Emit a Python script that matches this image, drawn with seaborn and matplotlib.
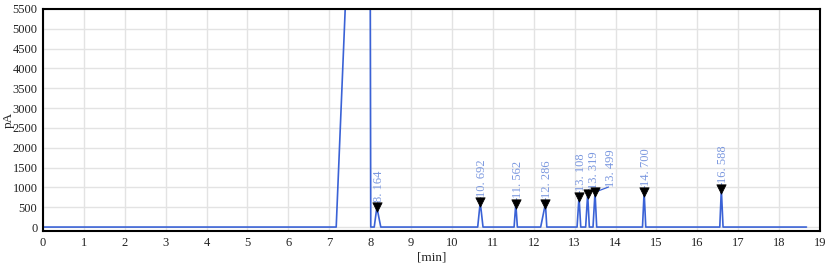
import matplotlib
matplotlib.use("Agg")
import matplotlib.pyplot as plt
import seaborn as sns
import pandas as pd

# Chromatogram polyline vertices (time in min, signal in pA)
time_min = [0.0, 7.17, 7.39, 7.45, 8.00, 8.015,
            8.10, 8.164, 8.26,
            10.63, 10.692, 10.76,
            11.52, 11.562, 11.60,
            12.17, 12.286, 12.32,
            13.06, 13.108, 13.15,
            13.27, 13.319, 13.36,
            13.45, 13.499, 13.54,
            14.66, 14.700, 14.74,
            16.55, 16.588, 16.63,
            18.67]
signal_pA = [0, 0, 5500, 7000, 7000, 0,
             0, 500, 0,
             0, 630, 0,
             0, 590, 0,
             0, 590, 0,
             0, 770, 0,
             0, 830, 0,
             0, 880, 0,
             0, 890, 0,
             0, 960, 0,
             0]

# Labeled peaks
peak_times = [8.164, 10.692, 11.562, 12.286, 13.108, 13.319, 13.499, 14.700, 16.588]
peak_heights = [500, 630, 590, 590, 770, 830, 880, 890, 960]
peak_labels = ["8. 164", "10. 692", "11. 562", "12. 286", "13. 108",
               "13. 319", "13. 499", "14. 700", "16. 588"]

x_ticks = list(range(0, 20))
y_ticks = list(range(0, 5501, 500))

sns.set_theme(style="whitegrid")
plt.rcParams['font.family'] = ['Liberation Serif', 'DejaVu Serif']

fig = plt.figure(figsize=(8.27, 2.70), dpi=100)
ax = fig.add_axes([0.052, 0.1444, 0.9395, 0.8223])

df = pd.DataFrame({"t": time_min, "s": signal_pA})
sns.lineplot(data=df, x="t", y="s", ax=ax, color="#3a62d6", linewidth=1.2,
             sort=False, estimator=None)

pk = pd.DataFrame({"t": peak_times, "h": peak_heights})
sns.scatterplot(data=pk, x="t", y="h", ax=ax, marker="v", color="black",
                s=45, edgecolor="black", zorder=5)

label_color = "#7b98df"
for t, h, lab in zip(peak_times, peak_heights, peak_labels):
    if lab == "13. 499":
        tx, ty = t + 0.33, h + 130
        ax.plot([t, tx], [h, ty], color="#3a62d6", lw=0.9, zorder=4)
        dx = 0.06
    else:
        tx, ty = t, h + 130
        ax.plot([t, t], [h, h + 140], color=label_color, lw=0.8, zorder=4)
        dx = 0.16 if lab == "13. 319" else 0.05
    ax.text(tx + dx, ty + 10, lab, rotation=90, ha="center", va="bottom",
            color=label_color, fontsize=9)

ax.set_xlim(0, 19)
ax.set_ylim(-100, 5500)
ax.set_xticks(x_ticks)
ax.set_yticks(y_ticks)
ax.grid(True, color="#e3e3e3", linewidth=1.0)
ax.set_facecolor("white")
for sp in ax.spines.values():
    sp.set_color("black")
    sp.set_linewidth(1.5)
ax.tick_params(axis="both", which="both", direction="out", length=3, width=1,
               color="black", labelsize=9, pad=1, labelcolor="#222222")
ax.set_xlabel("[min]", fontsize=9.5, labelpad=2)
ax.set_ylabel("pA", fontsize=9.5, labelpad=-2)

fig.savefig("out.png", dpi=100)
